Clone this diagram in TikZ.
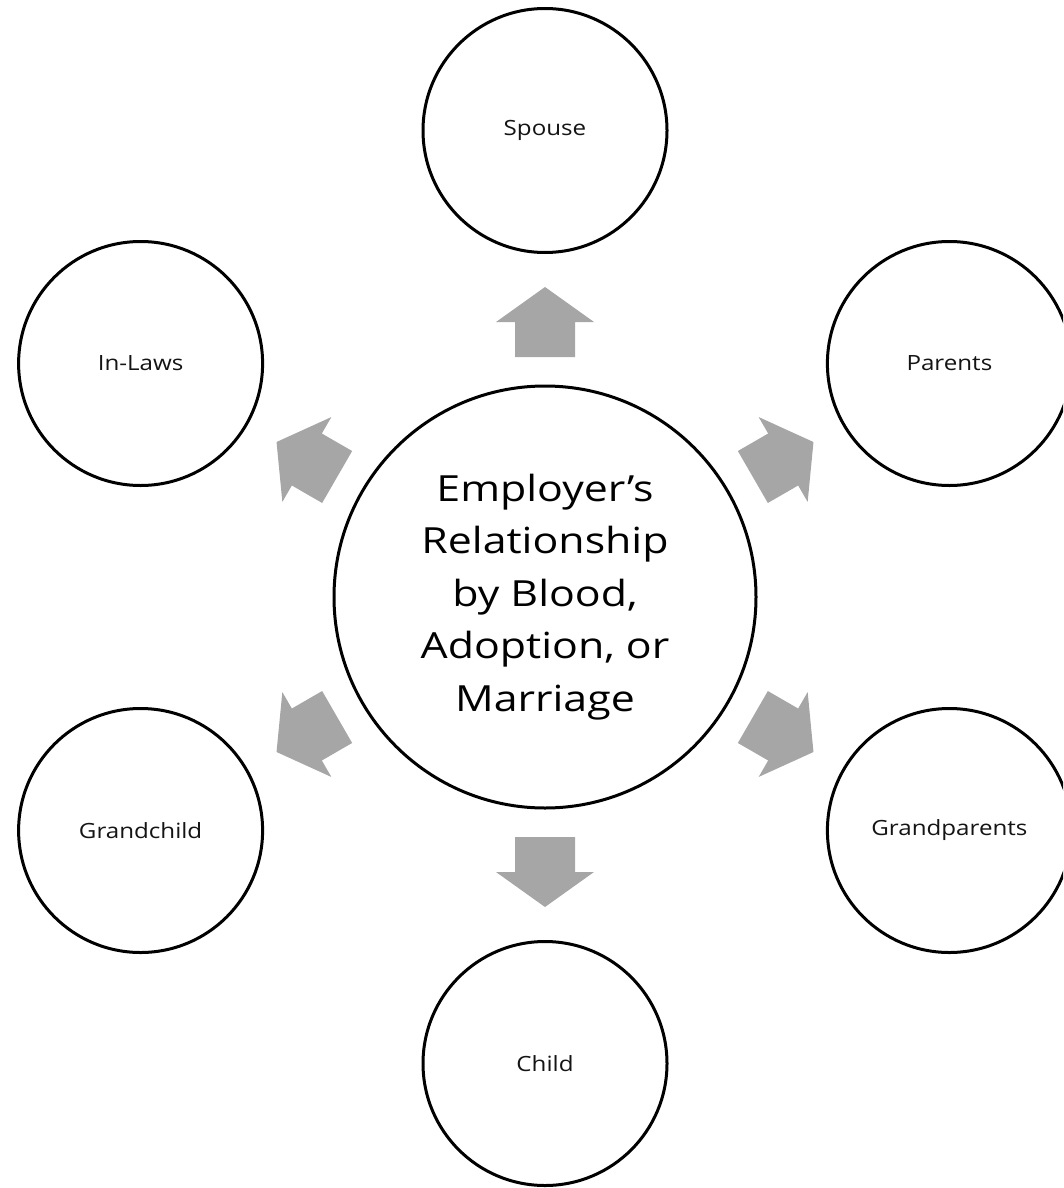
\documentclass[tikz,border=0pt]{standalone}
\usepackage{fontspec}
\setmainfont{Open Sans}[FakeStretch=1.15]
\newfontfamily\hubfont{Open Sans}[FakeStretch=1.19]
\definecolor{arrowgray}{RGB}{166,166,166}
\definecolor{txt}{RGB}{20,20,20}
\begin{document}
\begin{tikzpicture}[x=1pt,y=-1pt,
  ring/.style={circle, draw=black, line width=3pt, fill=white, minimum size=244pt, inner sep=0pt,
               font=\fontsize{21}{25}\selectfont, text=txt},
  hub/.style={circle, draw=black, line width=3pt, fill=white, minimum size=422pt, inner sep=0pt,
              align=center, font=\hubfont\fontsize{36}{52.5}\selectfont, text=black},
  blockarrow/.style={fill=arrowgray, draw=none}]
\useasboundingbox (0,0) rectangle (1063,1188);
\clip (0,0) rectangle (1063,1188);
\coordinate (o) at (545,597);
\node[hub] (c) at (o) {Employer’s\\Relationship\\by Blood,\\Adoption, or\\Marriage};
\node[ring] (spouse) at (545,130.5) {Spouse};
\node[ring] (parents) at (949.4,363.5) {Parents};
\node[ring] (grandparents) at (949.4,830.5) {Grandparents};
\node[ring] (child) at (545,1063.5) {Child};
\node[ring] (grandchild) at (140.6,830.5) {Grandchild};
\node[ring] (inlaws) at (140.6,363.5) {In-Laws};
\foreach \a in {90,30,-30,-90,-150,150}{
  \fill[blockarrow, shift={(o)}, rotate=\a]
    (240,-30) -- (275,-30) -- (275,-49) -- (310,0) -- (275,49) -- (275,30) -- (240,30) -- cycle;
}
\end{tikzpicture}
\end{document}
